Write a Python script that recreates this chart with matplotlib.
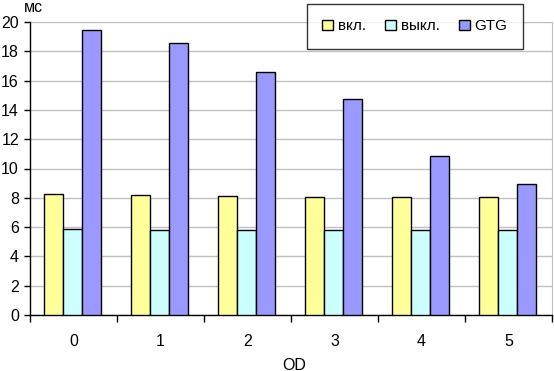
import matplotlib
matplotlib.use("Agg")
import matplotlib.pyplot as plt
import numpy as np

plt.rcParams["font.family"] = ["Liberation Sans", "DejaVu Sans"]

# data
categories = ["0", "1", "2", "3", "4", "5"]
vkl = [8.25, 8.17, 8.1, 8.05, 8.05, 8.05]
vykl = [5.85, 5.78, 5.78, 5.78, 5.78, 5.78]
gtg = [19.45, 18.6, 16.6, 14.75, 10.85, 8.92]
series_names = ["вкл.", "выкл.", "GTG"]
colors = ["#FFFF99", "#CCFFFF", "#9999FF"]

fig = plt.figure(figsize=(5.54, 3.71), dpi=100)
ax = fig.add_axes([30 / 554, 56 / 371, 522 / 554, 293 / 371])

x = np.arange(len(categories))
width = 0.22
for i, (vals, name, col) in enumerate(zip([vkl, vykl, gtg], series_names, colors)):
    ax.bar(x + (i - 1) * width - 0.01, vals, width, color=col, edgecolor="black",
           linewidth=1, label=name, zorder=3)

ax.set_xlim(-0.5, len(categories) - 0.5)
ax.set_ylim(0, 20)
ax.set_yticks(range(0, 21, 2))
ax.yaxis.grid(True, color="#C0C0C0", linewidth=1, zorder=0)
ax.tick_params(axis="y", direction="out", length=4, width=1, labelsize=11.5, pad=4)

# category labels centred, tick marks between groups
ax.set_xticks(x)
ax.set_xticklabels(categories)
ax.tick_params(axis="x", which="major", length=0, labelsize=11.5, pad=14)
ax.set_xticks(np.arange(-0.5, len(categories)), minor=True)
ax.tick_params(axis="x", which="minor", direction="out", length=5, width=1)

for s in ["left", "bottom"]:
    ax.spines[s].set_color("black")
    ax.spines[s].set_linewidth(1)
ax.spines["top"].set_visible(False)
ax.spines["right"].set_color("#C0C0C0")

fig.text(24 / 554, 1 - 8 / 371, "мс", fontsize=11.5, va="center", ha="left")
fig.text(294 / 554, 1 - 365 / 371, "OD", fontsize=11.5, va="center", ha="center")

leg = ax.legend(ncol=3, loc="upper left", bbox_to_anchor=(307 / 554, 1 - 4 / 371),
                bbox_transform=fig.transFigure, frameon=True, fancybox=False,
                edgecolor="black", fontsize=11, handlelength=0.7, handleheight=0.7,
                handletextpad=0.3, columnspacing=1.3, borderpad=1.0, borderaxespad=0)
leg.get_frame().set_linewidth(1)

fig.savefig("out.png", dpi=100)
